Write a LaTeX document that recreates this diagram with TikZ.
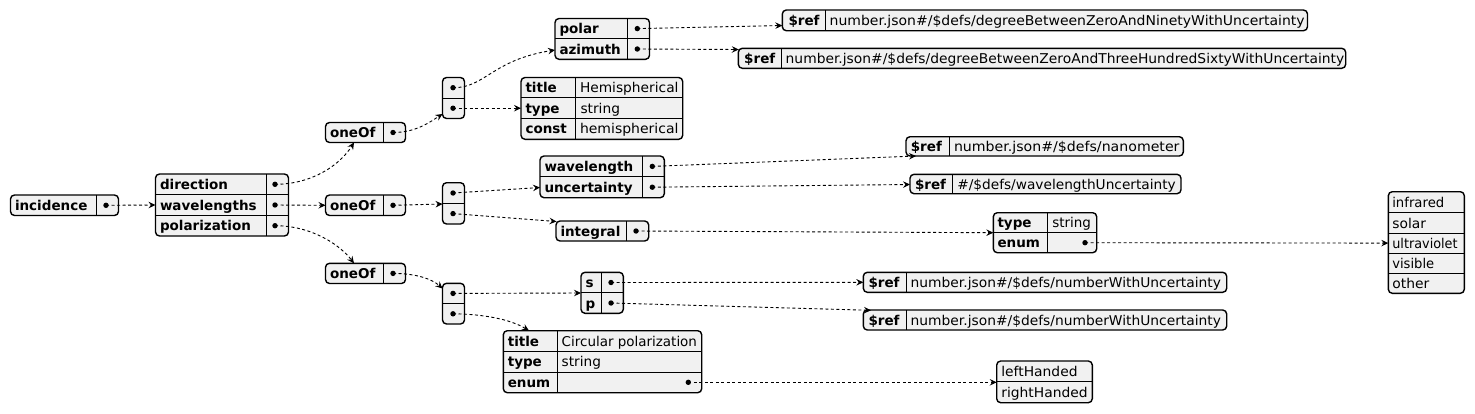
\documentclass[tikz,border=0pt]{standalone}
\usepackage{fontspec}
\usepackage{graphicx}
\setmainfont{DejaVu Sans}
\usetikzlibrary{arrows.meta,fit}
\definecolor{boxfill}{HTML}{F1F1F1}
\tikzset{
  jbox/.style={draw=black, line width=1.4pt, fill=boxfill, rounded corners=4pt, inner sep=0pt, outer sep=0pt},
  jdiv/.style={draw=black, line width=0.9pt},
  jdot/.style={circle, fill=black, inner sep=0pt, minimum size=5.4pt},
  jtxt/.style={inner sep=0pt, outer sep=0pt, anchor=base west, font=\fontsize{13.5}{16}\selectfont},
  jkey/.style={jtxt, font=\fontsize{13.5}{16}\selectfont\bfseries},
  jlink/.style={draw=black, line width=0.9pt, dash pattern=on 3pt off 2.5pt, -{Stealth[length=7pt,width=6.5pt,inset=2.5pt]}},
}
\newcommand\jb[5]{\node[jbox, fit={(#2,#3) (#4,#5)}] (#1) {};}
% value text squeezed or stretched to the width it has in the reference
\newcommand\jv[2]{\resizebox{#1pt}{\height}{#2}}
\begin{document}
\begin{tikzpicture}[x=1pt,y=-1pt]
\useasboundingbox (0,0) rectangle (1475,413);
\fill[white] (0,0) rectangle (1475,413);

% ---------- incidence
\jb{inc}{10.5}{195}{118.5}{215.5}
\draw[jdiv] (96.5,195) -- (96.5,215.5);
\node[jkey] (tinc) at (15,210.3) {incidence};
\node[jdot] (dinc) at (106,205.3) {};

% ---------- direction / wavelengths / polarization
\jb{obj}{155.5}{174}{288.5}{236}
\draw[jdiv] (155.5,194.7) -- (288.5,194.7);
\draw[jdiv] (155.5,215.3) -- (288.5,215.3);
\draw[jdiv] (266.5,174) -- (266.5,236);
\node[jkey] (tdir) at (160,189.3) {direction};
\node[jkey] (twl) at (160,210) {wavelengths};
\node[jkey] (tpol) at (160,230.7) {polarization};
\node[jdot] (ddir) at (275,184.3) {};
\node[jdot] (dwl) at (275,205) {};
\node[jdot] (dpol) at (275,225.7) {};
\coordinate (objin) at (155.5,205);

% ---------- oneOf boxes
\jb{oa}{325.5}{122.5}{405.5}{142.5}
\draw[jdiv] (383.5,122.5) -- (383.5,142.5);
\node[jkey] (toa) at (330,137.5) {oneOf};
\node[jdot] (doa) at (393,132.5) {};
\coordinate (oain) at (354,142.5);

\jb{ob}{325.5}{195}{405.5}{215.5}
\draw[jdiv] (383.5,195) -- (383.5,215.5);
\node[jkey] (tob) at (330,210.3) {oneOf};
\node[jdot] (dob) at (393,205.3) {};
\coordinate (obin) at (325.5,205.3);

\jb{oc}{325.5}{263.3}{405.5}{283.5}
\draw[jdiv] (383.5,263.3) -- (383.5,283.5);
\node[jkey] (toc) at (330,278.4) {oneOf};
\node[jdot] (doc) at (393,273.4) {};
\coordinate (ocin) at (354,263.3);

% ---------- arrays
\jb{aa}{442.5}{77.5}{464.5}{118.5}
\draw[jdiv] (442.5,98) -- (464.5,98);
\node[jdot] (daa1) at (453,87.7) {};
\node[jdot] (daa2) at (453,108.2) {};
\coordinate (aain) at (442.5,114);

\jb{ab}{442.5}{182.7}{464.5}{224}
\draw[jdiv] (442.5,203.3) -- (464.5,203.3);
\node[jdot] (dab1) at (453,193) {};
\node[jdot] (dab2) at (453,213.6) {};
\coordinate (abin) at (442.5,204);

\jb{ac}{442.5}{283.3}{464.5}{324}
\draw[jdiv] (442.5,303.6) -- (464.5,303.6);
\node[jdot] (dac1) at (453,293.4) {};
\node[jdot] (dac2) at (453,313.8) {};
\coordinate (acin) at (442.5,288.5);

% ---------- polar / azimuth
\jb{pa}{555}{18.5}{649.5}{59.3}
\draw[jdiv] (555,38.8) -- (649.5,38.8);
\draw[jdiv] (627.3,18.5) -- (627.3,59.3);
\node[jkey] (tpolar) at (559.5,33.6) {polar};
\node[jkey] (tazi) at (559.5,54) {azimuth};
\node[jdot] (dpolar) at (637.3,28.6) {};
\node[jdot] (dazi) at (637.3,49) {};
\coordinate (pain) at (555,50);

% ---------- hemispherical
\jb{hem}{521}{77.5}{682.7}{139.3}
\draw[jdiv] (521,97.8) -- (682.7,97.8);
\draw[jdiv] (521,118.4) -- (682.7,118.4);
\draw[jdiv] (575,77.5) -- (575,139.3);
\node[jkey] (thk1) at (525.5,92.6) {title};
\node[jkey] (thk2) at (525.5,113.1) {type};
\node[jkey] (thk3) at (525.5,133.8) {const};
\node[jtxt] (thv1) at (580,92.6) {\jv{98.5}{Hemispherical}};
\node[jtxt] (thv2) at (580.5,113.1) {\jv{39.5}{string}};
\node[jtxt] (thv3) at (580,133.8) {\jv{98.5}{hemispherical}};
\coordinate (hemin) at (521,108.2);

% ---------- refs for polar / azimuth
\jb{ra}{782.3}{10}{1307.5}{30.7}
\draw[jdiv] (825,10) -- (825,30.7);
\node[jkey] (tra1) at (788.5,25.3) {\$ref};
\node[jtxt] (tra2) at (829.7,25.3) {\jv{475}{number.json\#/\$defs/degreeBetweenZeroAndNinetyWithUncertainty}};
\coordinate (rain) at (782.3,25.5);

\jb{rb}{738.3}{48.3}{1345.7}{68.3}
\draw[jdiv] (781,48.3) -- (781,68.3);
\node[jkey] (trb1) at (744.2,63.3) {\$ref};
\node[jtxt] (trb2) at (785.7,63.3) {\jv{558.5}{number.json\#/\$defs/degreeBetweenZeroAndThreeHundredSixtyWithUncertainty}};
\coordinate (rbin) at (738.8,49.5);

% ---------- wavelength / uncertainty
\jb{wu}{540}{156}{664.3}{197.7}
\draw[jdiv] (540,176.8) -- (664.3,176.8);
\draw[jdiv] (642.3,156) -- (642.3,197.7);
\node[jkey] (twu1) at (544.5,171.4) {wavelength};
\node[jkey] (twu2) at (544.5,192.2) {uncertainty};
\node[jdot] (dwu1) at (652.3,166.4) {};
\node[jdot] (dwu2) at (652.3,187.2) {};
\coordinate (wuin) at (540,187.5);

% ---------- integral
\jb{int}{556}{221}{648.7}{241}
\draw[jdiv] (626.7,221) -- (626.7,241);
\node[jkey] (tint) at (560.5,236) {integral};
\node[jdot] (dint) at (636,231) {};
\coordinate (intin) at (556.5,221.5);

% ---------- refs nanometer / wavelengthUncertainty
\jb{rc}{906}{136.7}{1183.3}{156}
\draw[jdiv] (949.3,136.7) -- (949.3,156);
\node[jkey] (trc1) at (910.8,151.3) {\$ref};
\node[jtxt] (trc2) at (954,151.3) {\jv{225.5}{number.json\#/\$defs/nanometer}};
\coordinate (rcin) at (916,156);

\jb{rd}{910}{174.3}{1181}{193.7}
\draw[jdiv] (952.7,174.3) -- (952.7,193.7);
\node[jkey] (trd1) at (915,189) {\$ref};
\node[jtxt] (trd2) at (957.3,189) {\jv{218.5}{\#/\$defs/wavelengthUncertainty}};
\coordinate (rdin) at (910,184.5);

% ---------- type / enum
\jb{te}{993.3}{212.7}{1096.7}{252.7}
\draw[jdiv] (993.3,232.7) -- (1096.7,232.7);
\draw[jdiv] (1047.3,212.7) -- (1047.3,252.7);
\node[jkey] (tte1) at (997.5,227.7) {type};
\node[jkey] (tte2) at (997.5,247.7) {enum};
\node[jtxt] (tte3) at (1052.3,227.7) {\jv{38.7}{string}};
\node[jdot] (dte) at (1085,242.7) {};
\coordinate (tein) at (993.3,232.7);

% ---------- enum list
\jb{el}{1388.3}{191.7}{1464.3}{293.3}
\draw[jdiv] (1388.3,212.7) -- (1464.3,212.7);
\draw[jdiv] (1388.3,233.3) -- (1464.3,233.3);
\draw[jdiv] (1388.3,253.3) -- (1464.3,253.3);
\draw[jdiv] (1388.3,273.7) -- (1464.3,273.7);
\node[jtxt] (tel1) at (1392.3,207.2) {\jv{52}{infrared}};
\node[jtxt] (tel2) at (1392.3,228) {\jv{33.7}{solar}};
\node[jtxt] (tel3) at (1392.3,248.3) {\jv{65.3}{ultraviolet}};
\node[jtxt] (tel4) at (1392.3,268.5) {\jv{42}{visible}};
\node[jtxt] (tel5) at (1392.3,288.5) {\jv{37}{other}};
\coordinate (elin) at (1388.3,243.1);

% ---------- s / p
\jb{sp}{581}{272.3}{623.3}{313.3}
\draw[jdiv] (581,292.8) -- (623.3,292.8);
\draw[jdiv] (601.7,272.3) -- (601.7,313.3);
\node[jkey] (tsp1) at (585.5,287.5) {s};
\node[jkey] (tsp2) at (585.5,308) {p};
\node[jdot] (dsp1) at (611,282.5) {};
\node[jdot] (dsp2) at (611,303) {};
\coordinate (spin) at (581,293);

% ---------- circular polarization
\jb{cir}{503.3}{330.7}{701.7}{392.7}
\draw[jdiv] (503.3,351.3) -- (701.7,351.3);
\draw[jdiv] (503.3,372) -- (701.7,372);
\draw[jdiv] (557.3,330.7) -- (557.3,392.7);
\node[jkey] (tck1) at (507.8,346) {title};
\node[jkey] (tck2) at (507.8,366.6) {type};
\node[jkey] (tck3) at (507.8,387.3) {enum};
\node[jtxt] (tcv1) at (561.7,346) {\jv{135.3}{Circular polarization}};
\node[jtxt] (tcv2) at (561.7,366.6) {\jv{39.3}{string}};
\node[jdot] (dcir) at (688.3,382.3) {};
\coordinate (cirin) at (529,330.7);

% ---------- refs s / p
\jb{re}{863.3}{272.3}{1226.7}{292.3}
\draw[jdiv] (906.7,272.3) -- (906.7,292.3);
\node[jkey] (tre1) at (868.5,287.3) {\$ref};
\node[jtxt] (tre2) at (910.7,287.3) {\jv{310.3}{number.json\#/\$defs/numberWithUncertainty}};
\coordinate (rein) at (863.3,282.3);

\jb{rf}{863.3}{310}{1226.7}{330}
\draw[jdiv] (906.7,310) -- (906.7,330);
\node[jkey] (trf1) at (868.5,325) {\$ref};
\node[jtxt] (trf2) at (910.7,325) {\jv{310.3}{number.json\#/\$defs/numberWithUncertainty}};
\coordinate (rfin) at (871,310.3);

% ---------- left / right handed
\jb{lr}{996.7}{361}{1092.3}{402.7}
\draw[jdiv] (996.7,381.8) -- (1092.3,381.8);
\node[jtxt] (tlr1) at (1001.3,376.4) {\jv{76.3}{leftHanded}};
\node[jtxt] (tlr2) at (1001.3,397.2) {\jv{86.3}{rightHanded}};
\coordinate (lrin) at (996.7,382.3);

% ---------- connectors
\draw[jlink] (dinc.center) -- (objin);
\draw[jlink] (ddir.center) .. controls (312,184.3) and (340,165) .. (oain);
\draw[jlink] (dwl.center) -- (obin);
\draw[jlink] (dpol.center) .. controls (312,225.7) and (340,245) .. (ocin);
\draw[jlink] (doa.center) .. controls (416,132.5) and (430,122) .. (aain);
\draw[jlink] (dob.center) -- (abin);
\draw[jlink] (doc.center) .. controls (416,273.4) and (432,279) .. (acin);
\draw[jlink] (daa1.center) .. controls (485,88) and (492,60) .. (pain);
\draw[jlink] (daa2.center) -- (hemin);
\draw[jlink] (dpolar.center) -- (rain);
\draw[jlink] (dazi.center) -- (rbin);
\draw[jlink] (dab1.center) -- (wuin);
\draw[jlink] (dab2.center) -- (intin);
\draw[jlink] (dwu1.center) -- (rcin);
\draw[jlink] (dwu2.center) -- (rdin);
\draw[jlink] (dint.center) -- (tein);
\draw[jlink] (dte.center) -- (elin);
\draw[jlink] (dac1.center) -- (spin);
\draw[jlink] (dac2.center) .. controls (482,314) and (510,319) .. (cirin);
\draw[jlink] (dsp1.center) -- (rein);
\draw[jlink] (dsp2.center) -- (rfin);
\draw[jlink] (dcir.center) -- (lrin);
\end{tikzpicture}
\end{document}
